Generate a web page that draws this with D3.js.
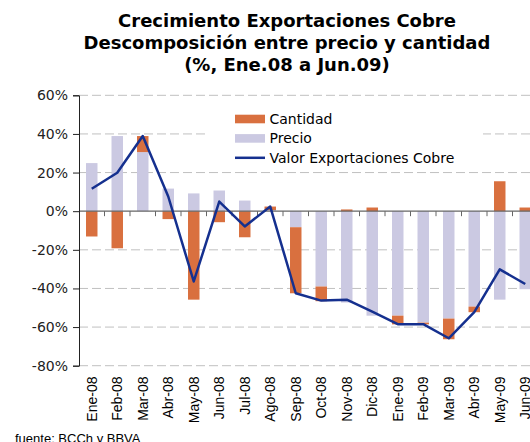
<!DOCTYPE html>
<html>
<head>
<meta charset="utf-8">
<script src="https://cdn.jsdelivr.net/npm/d3@7"></script>
<style>
  body { margin: 0; background: #fff; }
  svg { display: block; }
</style>
</head>
<body>
<script>
// Data =============================================
const months = ["Ene-08","Feb-08","Mar-08","Abr-08","May-08","Jun-08","Jul-08","Ago-08","Sep-08",
                "Oct-08","Nov-08","Dic-08","Ene-09","Feb-09","Mar-09","Abr-09","May-09","Jun-09"];

const precio   = [24.9, 38.9, 30.6, 11.7, 9.2, 10.7, 5.5, 0.6, -8.3, -39.0, -47.3, -54.1, -54.1, -57.7, -55.6, -49.4, -45.8, -40.4];
const cantidad = [-13.1, -19.2, 8.3, -4.1, -45.8, -5.7, -13.5, 1.8, -34.2, -7.6, 0.9, 1.9, -4.5, -0.9, -10.7, -2.9, 15.5, 1.9];
const valor    = [11.6, 19.9, 38.9, 7.6, -36.4, 5.0, -7.9, 2.4, -42.5, -46.3, -45.8, -52.0, -58.5, -58.5, -65.8, -52.3, -30.1, -37.7];

const yTicks = [60, 40, 20, 0, -20, -40, -60, -80];

const titleLines = ["Crecimiento Exportaciones Cobre",
                    "Descomposición entre precio y cantidad",
                    "(%, Ene.08 a Jun.09)"];

// Chart =============================================
let width = 530,
    height = 442;

let svg = d3.select("body").append("svg")
    .attr("width", width)
    .attr("height", height);

let x = d3.scaleBand()
    .domain(months)
    .range([79, 538])
    .paddingInner(0.55)
    .paddingOuter(0.275);

let y = d3.scaleLinear()
    .domain([-80, 60])
    .range([365.7, 95.3]);

const colors = {Cantidad: "#d9703f", Precio: "#cbc9e2", Valor: "#15308f"};

// Title
svg.append("g").selectAll("text")
    .data(titleLines)
  .enter().append("text")
    .attr("x", 287)
    .attr("y", (d,i) => 27 + i * 22)
    .attr("text-anchor", "middle")
    .attr("font-family", "DejaVu Sans")
    .attr("font-weight", "bold")
    .attr("font-size", "18px")
    .attr("fill", "#000")
    .text(d => d);

// Grid lines (dashed)
svg.append("g").selectAll("line")
    .data(yTicks.filter(d => d !== 0))
  .enter().append("line")
    .attr("x1", 79)
    .attr("x2", width)
    .attr("y1", d => y(d))
    .attr("y2", d => y(d))
    .attr("stroke", "#c0c0c0")
    .attr("stroke-dasharray", "9,4");

// Stacked bars, positives up and negatives down
let table = months.map((m,i) => ({month: m, Precio: precio[i], Cantidad: cantidad[i]}));

let stacked = d3.stack()
    .keys(["Precio", "Cantidad"])
    .offset(d3.stackOffsetDiverging)(table);

svg.append("g").selectAll("g")
    .data(stacked)
  .enter().append("g")
    .attr("fill", d => colors[d.key])
  .selectAll("rect")
    .data(d => d)
  .enter().append("rect")
    .attr("x", d => x(d.data.month))
    .attr("width", x.bandwidth())
    .attr("y", d => y(Math.max(d[0], d[1])))
    .attr("height", d => Math.abs(y(d[0]) - y(d[1])));

// Zero line with category ticks
svg.append("line")
    .attr("x1", 79)
    .attr("x2", width)
    .attr("y1", y(0))
    .attr("y2", y(0))
    .attr("stroke", "#666")
    .attr("stroke-width", 1.2);

svg.append("g").selectAll("line")
    .data(months.slice(1))
  .enter().append("line")
    .attr("x1", d => x(d) - x.step() * x.paddingInner() / 2)
    .attr("x2", d => x(d) - x.step() * x.paddingInner() / 2)
    .attr("y1", y(0))
    .attr("y2", y(0) + 5)
    .attr("stroke", "#666");

// Y axis
let yAxis = d3.axisLeft(y)
    .tickValues(yTicks)
    .tickSize(6)
    .tickPadding(5)
    .tickFormat(d => d + "%");

svg.append("g")
    .attr("transform", "translate(79,0)")
    .call(yAxis)
    .call(g => g.selectAll("path, line").attr("stroke", "#222"))
    .call(g => g.selectAll("text")
        .attr("font-family", "DejaVu Sans")
        .attr("font-size", "14px")
        .attr("fill", "#222"));

// Valor line
let line = d3.line()
    .x((d,i) => x(months[i]) + x.bandwidth() / 2)
    .y(d => y(d));

svg.append("path")
    .datum(valor)
    .attr("d", line)
    .attr("fill", "none")
    .attr("stroke", colors.Valor)
    .attr("stroke-width", 2.5)
    .attr("stroke-linejoin", "round");

// Month labels, rotated
svg.append("g").selectAll("text")
    .data(months)
  .enter().append("text")
    .attr("transform", d => `translate(${x(d) + x.bandwidth() / 2 + 5},376.5) rotate(-90)`)
    .attr("text-anchor", "end")
    .attr("font-family", "Liberation Sans")
    .attr("font-size", "14px")
    .attr("fill", "#000")
    .text(d => d);

// Legend
let legend = svg.append("g");

legend.append("rect")
    .attr("x", 208).attr("y", 105)
    .attr("width", 275).attr("height", 62)
    .attr("fill", "#fff");

let legendItems = ["Cantidad", "Precio", "Valor Exportaciones Cobre"];

legendItems.forEach((name, i) => {
  let cy = 119 + i * 19.4;
  if (i < 2) {
    legend.append("rect")
        .attr("x", 235).attr("y", cy - 4.3)
        .attr("width", 30).attr("height", 8.6)
        .attr("fill", i === 0 ? colors.Cantidad : colors.Precio);
  } else {
    legend.append("line")
        .attr("x1", 235).attr("x2", 265)
        .attr("y1", cy).attr("y2", cy)
        .attr("stroke", colors.Valor)
        .attr("stroke-width", 2.5);
  }
  legend.append("text")
      .attr("x", 269.5)
      .attr("y", cy)
      .attr("dy", "0.36em")
      .attr("font-family", "DejaVu Sans")
      .attr("font-size", "14px")
      .attr("fill", "#000")
      .text(name);
});

// Source note
svg.append("text")
    .attr("x", 15)
    .attr("y", 443)
    .attr("font-family", "Liberation Sans")
    .attr("font-size", "13px")
    .attr("fill", "#000")
    .text("fuente: BCCh y BBVA");
</script>
</body>
</html>
